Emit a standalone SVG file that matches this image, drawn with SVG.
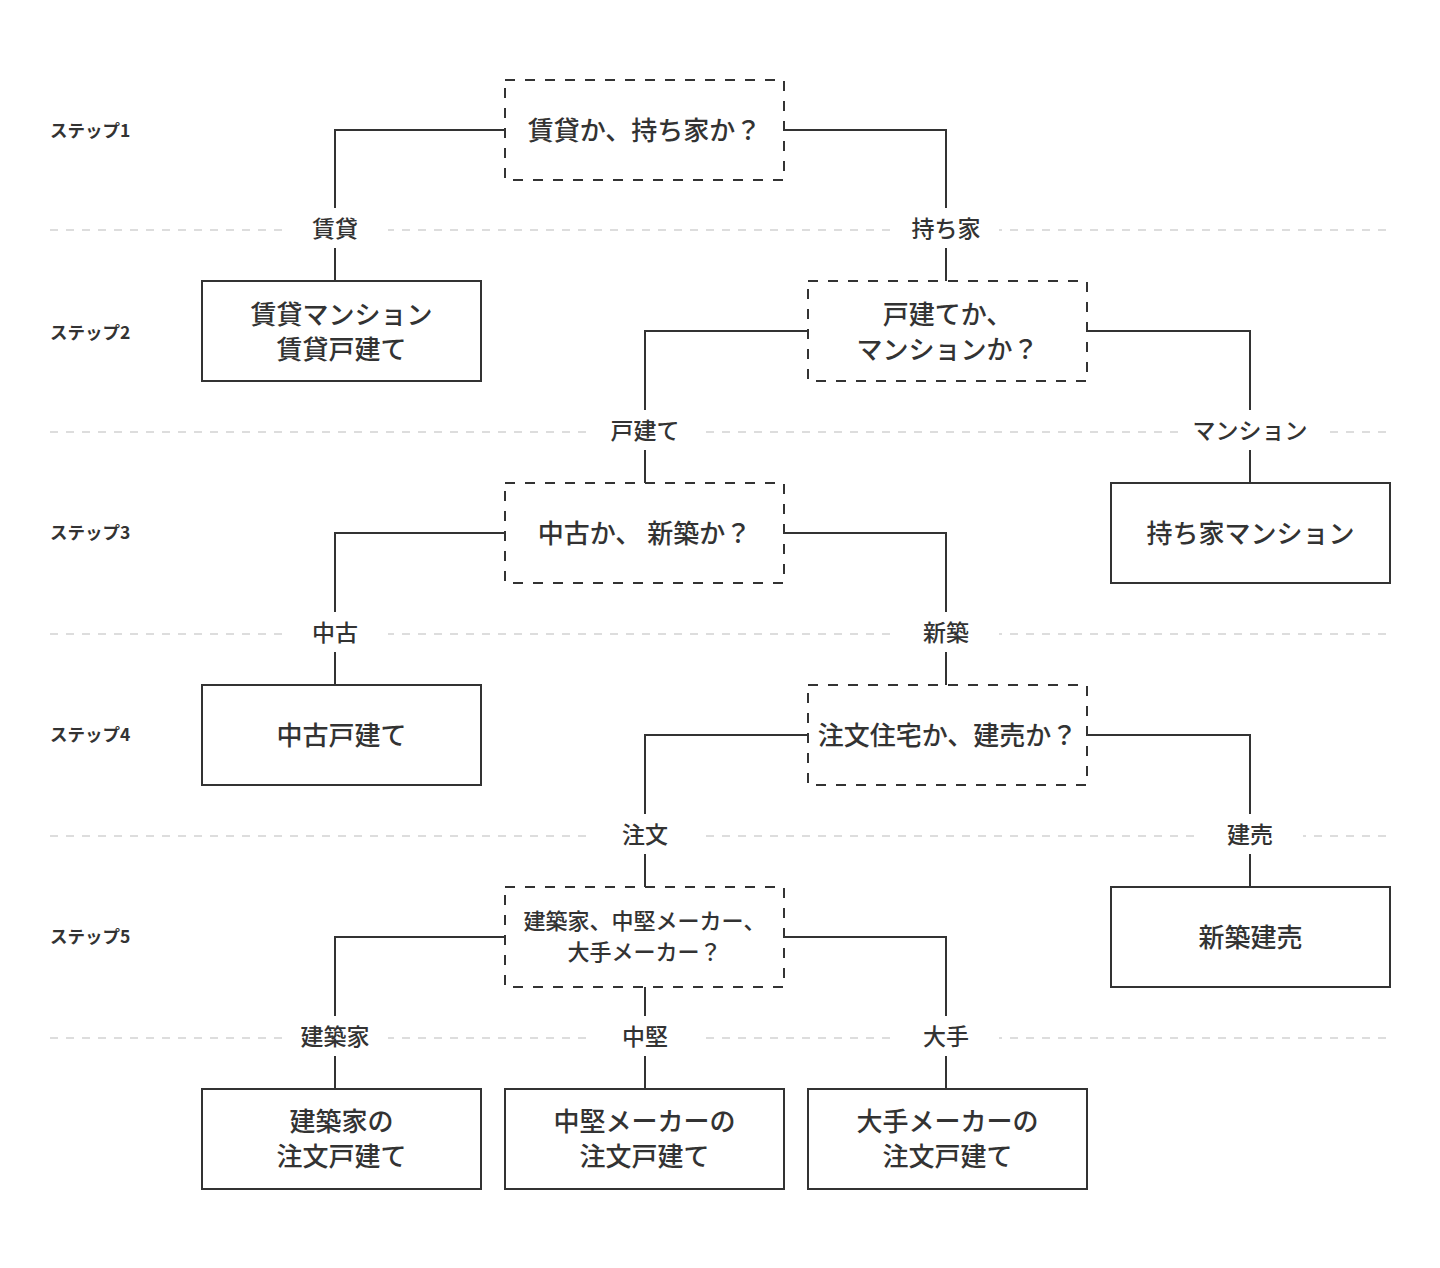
<svg xmlns="http://www.w3.org/2000/svg" width="1440" height="1268" viewBox="0 0 1440 1268">
<style>
text{font-family:"Noto Sans CJK JP","Noto Sans",sans-serif;fill:#333;}
.step{font-size:17.5px;font-weight:700;dominant-baseline:central;}
.bt{font-size:26px;font-weight:500;text-anchor:middle;dominant-baseline:central;}
.st{font-size:22px;font-weight:500;text-anchor:middle;dominant-baseline:central;}
.lt{font-size:23px;font-weight:500;text-anchor:middle;dominant-baseline:central;}
.solid{fill:#fff;stroke:#333;stroke-width:2;}
.dash{fill:#fff;stroke:#333;stroke-width:2;stroke-dasharray:10 10;}
.sep{stroke:#ddd;stroke-width:2;stroke-dasharray:8 8;fill:none;}
.conn{stroke:#333;stroke-width:2;fill:none;}
.lbg{fill:#fff;}
</style>
<rect width="1440" height="1268" fill="#fff"/>
<g id="separators">
<line class="sep" x1="50" y1="230" x2="1390" y2="230"/>
<line class="sep" x1="50" y1="432" x2="1390" y2="432"/>
<line class="sep" x1="50" y1="634" x2="1390" y2="634"/>
<line class="sep" x1="50" y1="836" x2="1390" y2="836"/>
<line class="sep" x1="50" y1="1038" x2="1390" y2="1038"/>
</g>
<g id="steps">
<text class="step" x="50" y="129">ステップ1</text>
<text class="step" x="50" y="331">ステップ2</text>
<text class="step" x="50" y="531">ステップ3</text>
<text class="step" x="50" y="733">ステップ4</text>
<text class="step" x="50" y="935">ステップ5</text>
</g>
<g id="connectors">
<path class="conn" d="M505 130H335V281"/>
<path class="conn" d="M784 130H946V281"/>
<path class="conn" d="M808 331H645V483"/>
<path class="conn" d="M1087 331H1250V483"/>
<path class="conn" d="M505 533H335V685"/>
<path class="conn" d="M784 533H946V685"/>
<path class="conn" d="M808 735H645V887"/>
<path class="conn" d="M1087 735H1250V887"/>
<path class="conn" d="M505 937H335V1089"/>
<path class="conn" d="M645 987V1089"/>
<path class="conn" d="M784 937H946V1089"/>
</g>
<g id="edge-labels">
<g id="l-chintai"><rect class="lbg" x="282" y="208" width="106" height="40"/><text class="lt" x="335" y="227">賃貸</text></g>
<g id="l-mochiie"><rect class="lbg" x="893" y="208" width="106" height="40"/><text class="lt" x="946" y="227">持ち家</text></g>
<g id="l-kodate"><rect class="lbg" x="592" y="410" width="106" height="40"/><text class="lt" x="645" y="429">戸建て</text></g>
<g id="l-mansion"><rect class="lbg" x="1178" y="410" width="144" height="40"/><text class="lt" x="1250" y="429">マンション</text></g>
<g id="l-chuko"><rect class="lbg" x="282" y="612" width="106" height="40"/><text class="lt" x="335" y="631">中古</text></g>
<g id="l-shinchiku"><rect class="lbg" x="893" y="612" width="106" height="40"/><text class="lt" x="946" y="631">新築</text></g>
<g id="l-chumon"><rect class="lbg" x="592" y="814" width="106" height="40"/><text class="lt" x="645" y="833">注文</text></g>
<g id="l-tateuri"><rect class="lbg" x="1197" y="814" width="106" height="40"/><text class="lt" x="1250" y="833">建売</text></g>
<g id="l-kenchikuka"><rect class="lbg" x="282" y="1016" width="106" height="40"/><text class="lt" x="335" y="1035">建築家</text></g>
<g id="l-chuken"><rect class="lbg" x="592" y="1016" width="106" height="40"/><text class="lt" x="645" y="1035">中堅</text></g>
<g id="l-ote"><rect class="lbg" x="893" y="1016" width="106" height="40"/><text class="lt" x="946" y="1035">大手</text></g>
</g>
<g id="q1"><rect class="dash" x="505" y="80" width="279" height="100"/><text class="bt" x="644.5" y="128">賃貸か、持ち家か？</text></g>
<g id="r-chintai"><rect class="solid" x="202" y="281" width="279" height="100"/><text class="bt" x="341.5" y="312">賃貸マンション</text><text class="bt" x="341.5" y="347">賃貸戸建て</text></g>
<g id="q2"><rect class="dash" x="808" y="281" width="279" height="100"/><text class="bt" x="947.5" y="312">戸建てか、</text><text class="bt" x="947.5" y="347">マンションか？</text></g>
<g id="q3"><rect class="dash" x="505" y="483" width="279" height="100"/><text class="bt" x="644.5" y="531">中古か、 新築か？</text></g>
<g id="r-mansion"><rect class="solid" x="1111" y="483" width="279" height="100"/><text class="bt" x="1250.5" y="531">持ち家マンション</text></g>
<g id="r-chuko"><rect class="solid" x="202" y="685" width="279" height="100"/><text class="bt" x="341.5" y="733">中古戸建て</text></g>
<g id="q4"><rect class="dash" x="808" y="685" width="279" height="100"/><text class="bt" x="947.5" y="733">注文住宅か、建売か？</text></g>
<g id="q5"><rect class="dash" x="505" y="887" width="279" height="100"/><text class="st" x="644.5" y="919">建築家、中堅メーカー、</text><text class="st" x="644.5" y="950">大手メーカー？</text></g>
<g id="r-tateuri"><rect class="solid" x="1111" y="887" width="279" height="100"/><text class="bt" x="1250.5" y="935">新築建売</text></g>
<g id="r-kenchikuka"><rect class="solid" x="202" y="1089" width="279" height="100"/><text class="bt" x="341.5" y="1119">建築家の</text><text class="bt" x="341.5" y="1154">注文戸建て</text></g>
<g id="r-chuken"><rect class="solid" x="505" y="1089" width="279" height="100"/><text class="bt" x="644.5" y="1119">中堅メーカーの</text><text class="bt" x="644.5" y="1154">注文戸建て</text></g>
<g id="r-ote"><rect class="solid" x="808" y="1089" width="279" height="100"/><text class="bt" x="947.5" y="1119">大手メーカーの</text><text class="bt" x="947.5" y="1154">注文戸建て</text></g>
</svg>
